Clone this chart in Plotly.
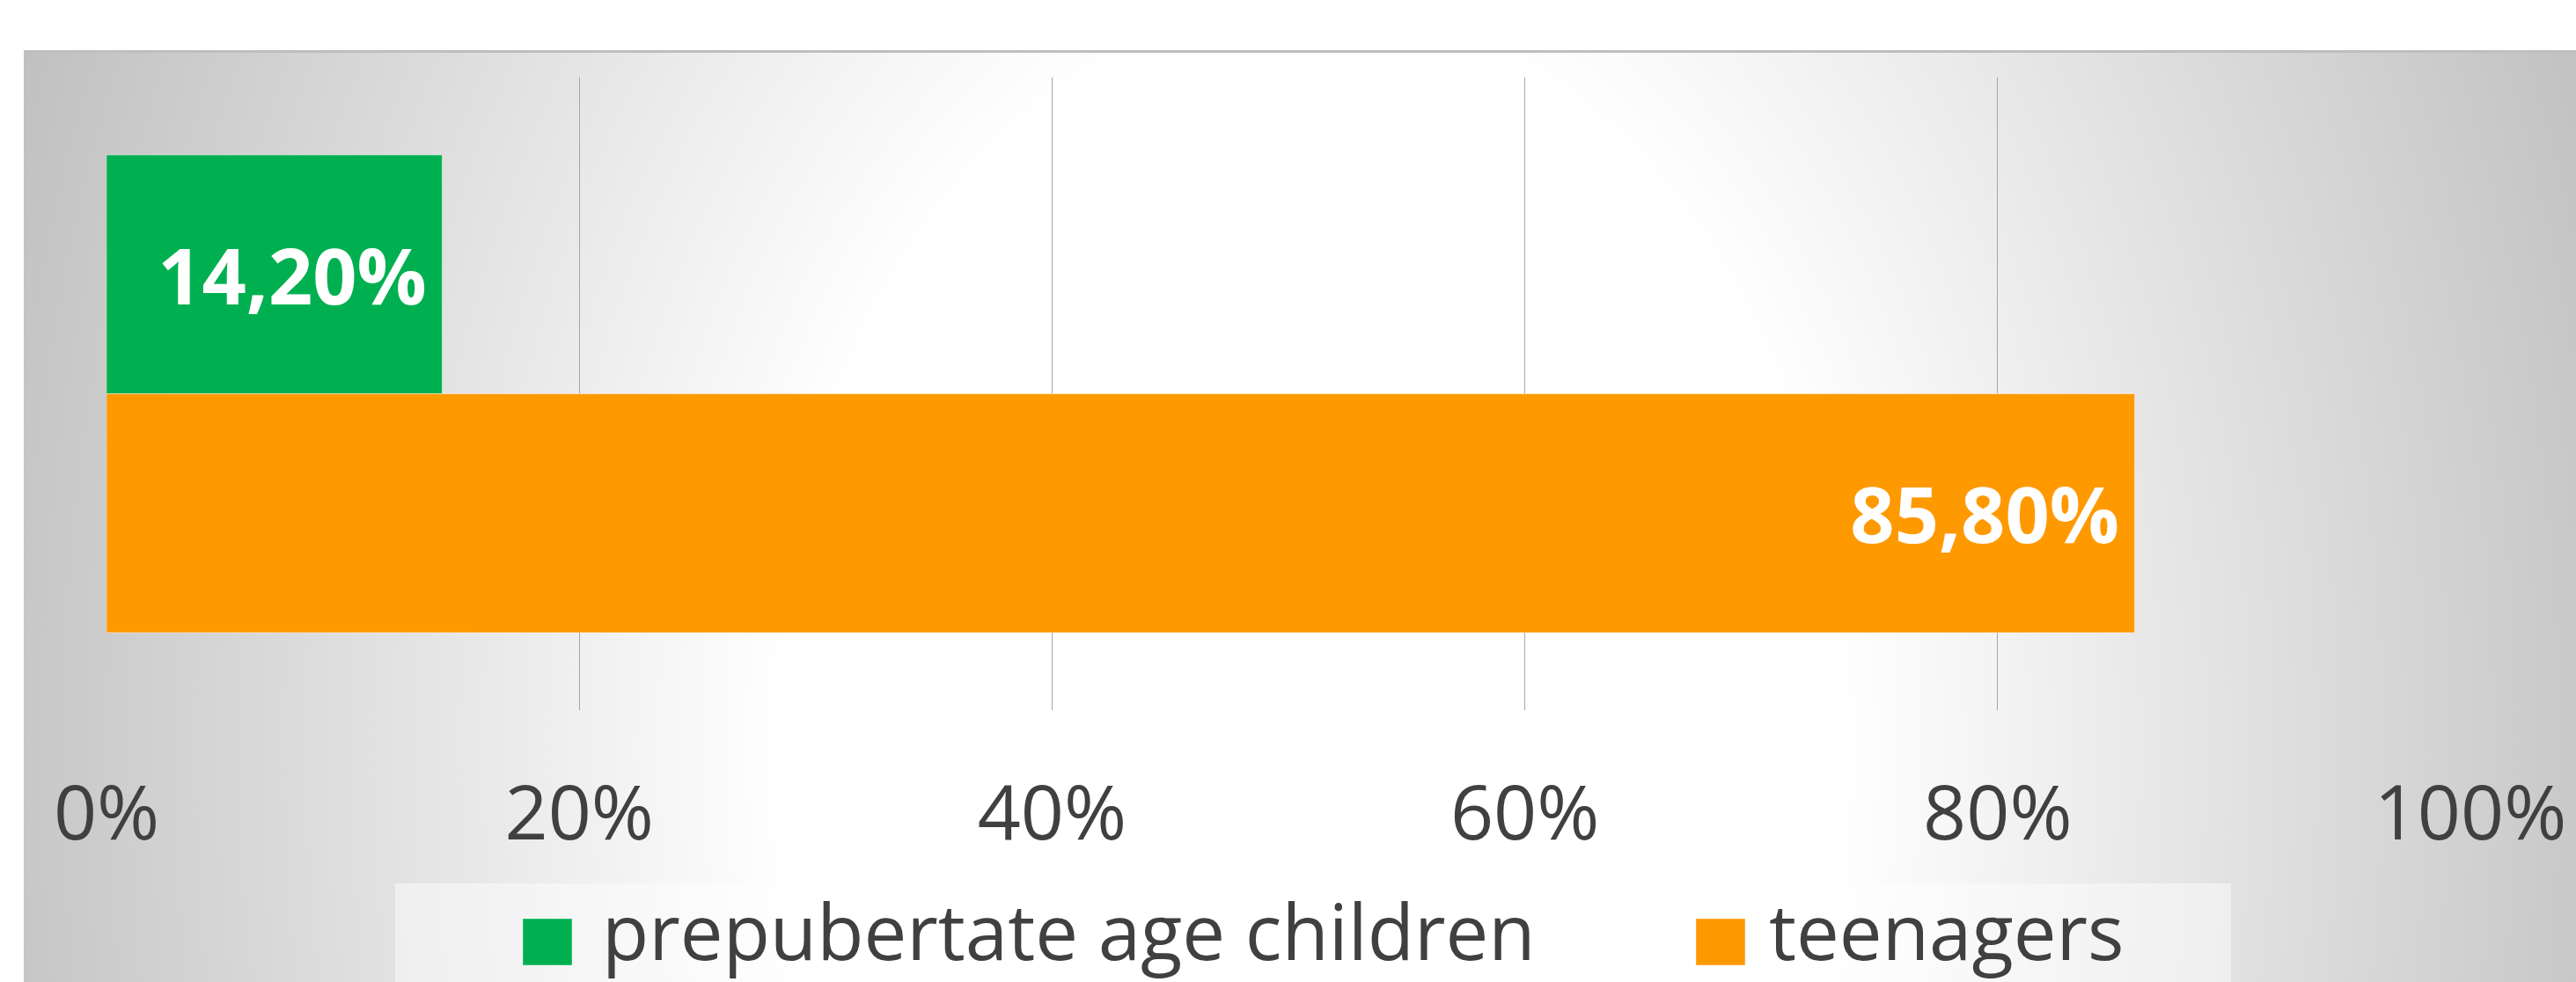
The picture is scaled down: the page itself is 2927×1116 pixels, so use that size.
import base64
import plotly.graph_objects as go

# ---- data ----
categories = [""]
series_names = ["prepubertate age children", "teenagers"]
series_values = [[14.2], [85.8]]
series_colors = ["#00B050", "#FF9900"]
tick_values = [0, 20, 40, 60, 80, 100]
tick_labels = ["0%", "20%", "40%", "60%", "80%", "100%"]

# ---- canvas geometry ----
W, H = 2927, 1116
ML, MR, MT, MB = 121, 120, 88, 309
PW, PH = W - ML - MR, H - MT - MB


def xp(px):
    return (px - ML) / PW


def yp(py):
    return (H - MB - py) / PH


FONT = "Open Sans"

fig = go.Figure()
for name, vals, col in zip(series_names, series_values, series_colors):
    fig.add_trace(go.Bar(
        y=categories, x=vals, name=name, orientation="h",
        marker=dict(color=col, line=dict(color="rgba(255,255,255,0.45)", width=1)),
        texttemplate="%{x:.2f}%\u2009", textposition="inside", insidetextanchor="end",
        textfont=dict(family=FONT, size=88, color="white", weight="bold"),
        showlegend=False, hoverinfo="skip",
    ))

# background gradient (SVG image)
gw, gh = 2900, 1059
svg = (
    f"<svg xmlns='http://www.w3.org/2000/svg' width='{gw}' height='{gh}' viewBox='0 0 {gw} {gh}' preserveAspectRatio='none'>"
    "<defs><radialGradient id='g' gradientUnits='userSpaceOnUse' cx='1463' cy='793' r='1572' "
    "gradientTransform='translate(1463 793) scale(1 1.383) translate(-1463 -793)'>"
    "<stop offset='0' stop-color='#ffffff'/><stop offset='0.382' stop-color='#ffffff'/>"
    "<stop offset='1' stop-color='#c0c0c0'/></radialGradient></defs>"
    f"<rect width='{gw}' height='{gh}' fill='url(#g)'/>"
    f"<rect width='{gw}' height='3' fill='#bebebe'/></svg>"
)
src = "data:image/svg+xml;base64," + base64.b64encode(svg.encode()).decode()
fig.add_layout_image(dict(source=src, xref="paper", yref="paper", x=xp(27), y=yp(57),
                          sizex=gw / PW, sizey=gh / PH, xanchor="left", yanchor="top",
                          sizing="stretch", layer="below"))

# manual legend
shapes = [dict(type="rect", xref="paper", yref="paper", x0=xp(449), x1=xp(2535), y0=yp(1004), y1=yp(1140),
               fillcolor="rgba(255,255,255,0.45)", line=dict(width=0), layer="below")]
annotations = []
legend_items = [(594, 682), (1927, 2008)]
for (sx, tx), name, col in zip(legend_items, series_names, series_colors):
    shapes.append(dict(type="rect", xref="paper", yref="paper", x0=xp(sx), x1=xp(sx + 56),
                       y0=yp(1097), y1=yp(1044), fillcolor=col,
                       line=dict(color="rgba(255,255,255,0.4)", width=1), layer="above"))
    annotations.append(dict(text=name, xref="paper", yref="paper", x=xp(tx), y=yp(1057),
                            xanchor="left", yanchor="middle", showarrow=False,
                            font=dict(family=FONT, size=87, color="#404040")))

fig.update_layout(
    width=W, height=H,
    margin=dict(l=ML, r=MR, t=MT, b=MB, autoexpand=False),
    paper_bgcolor="white", plot_bgcolor="rgba(0,0,0,0)",
    barmode="group", bargap=0.245, bargroupgap=0,
    separators=", ",
    showlegend=False,
    shapes=shapes, annotations=annotations,
    xaxis=dict(range=[0, 100], tickvals=tick_values, ticktext=tick_labels,
               showgrid=True, gridcolor="#A6A6A6", gridwidth=1, zeroline=False,
               showline=False, ticks="", ticklabelstandoff=60,
               tickfont=dict(family=FONT, size=86, color="#404040"), automargin=False),
    yaxis=dict(autorange="reversed", showticklabels=False, showgrid=False, zeroline=False,
               showline=False, ticks="", automargin=False),
)

fig.write_html("out.html")
